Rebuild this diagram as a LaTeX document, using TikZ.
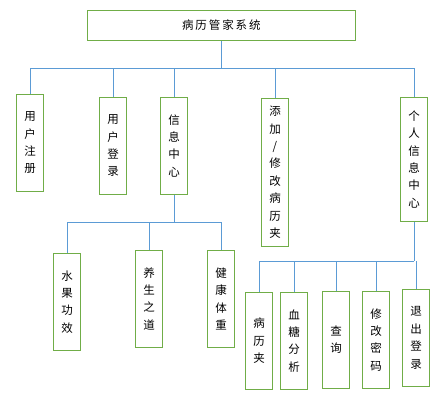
\documentclass[tikz,border=0pt]{standalone}
\usepackage{fontspec}
\newfontfamily\cjk{Noto Sans CJK SC}
\usetikzlibrary{positioning,calc}
\definecolor{boxGreen}{RGB}{112,173,71}
\definecolor{lineBlue}{RGB}{91,155,213}
\tikzset{
  vbox/.style={draw=boxGreen, line width=1.1pt, fill=white, align=center,
               minimum width=27.4pt, minimum height=97pt, inner sep=0pt,
               font=\cjk\fontsize{11.5}{17.4}\selectfont},
  topbox/.style={vbox, minimum width=268pt, minimum height=30pt},
  link/.style={draw=lineBlue, line width=1pt}
}
\begin{document}
\begin{tikzpicture}[x=1pt, y=-1pt]
\useasboundingbox (0,0) rectangle (445,407);
\node[topbox] (sys) at (221.3,25.3) {病\,历\,管\,家\,系\,统};
\node[vbox] (zc) at (30,142.8) {用\\户\\注\\册};
\node[vbox] (dl) at (113,145.8) {用\\户\\登\\录};
\node[vbox] (xxzx) at (174,145.8) {信\\息\\中\\心};
\node[vbox, minimum height=147.7pt] (tj) at (275,172.2) {添\\加\\/\\修\\改\\病\\历\\夹};
\node[vbox, minimum height=124pt] (grzx) at (414,159.3) {个\\人\\信\\息\\中\\心};
\node[vbox] (sg) at (67,301.8) {水\\果\\功\\效};
\node[vbox] (ys) at (149,298.8) {养\\生\\之\\道};
\node[vbox] (jk) at (221,298.8) {健\\康\\体\\重};
\node[vbox] (blj) at (259,340.8) {病\\历\\夹};
\node[vbox] (xt) at (294,340.8) {血\\糖\\分\\析};
\node[vbox] (cx) at (336,339.8) {查\\询};
\node[vbox] (xg) at (376,339.8) {修\\改\\密\\码};
\node[vbox] (tc) at (416,337.8) {退\\出\\登\\录};
\coordinate (bus1) at (0,68.3);
\coordinate (bus2) at (0,222.3);
\coordinate (bus3) at (0,261.3);
\draw[link] (sys.south) -- (sys.south |- bus1);
\draw[link] (zc.north |- bus1) -- (grzx.north |- bus1);
\foreach \n in {zc,dl,xxzx,tj,grzx}
  \draw[link] (\n.north) -- (\n.north |- bus1);
\draw[link] (xxzx.south) -- (xxzx.south |- bus2);
\draw[link] (sg.north |- bus2) -- (jk.north |- bus2);
\foreach \n in {sg,ys,jk}
  \draw[link] (\n.north) -- (\n.north |- bus2);
\draw[link] (grzx.south) -- (grzx.south |- bus3);
\draw[link] (blj.north |- bus3) -- (grzx.south |- bus3);
\foreach \n in {blj,xt,cx,xg,tc}
  \draw[link] (\n.north) -- (\n.north |- bus3);
\end{tikzpicture}
\end{document}
